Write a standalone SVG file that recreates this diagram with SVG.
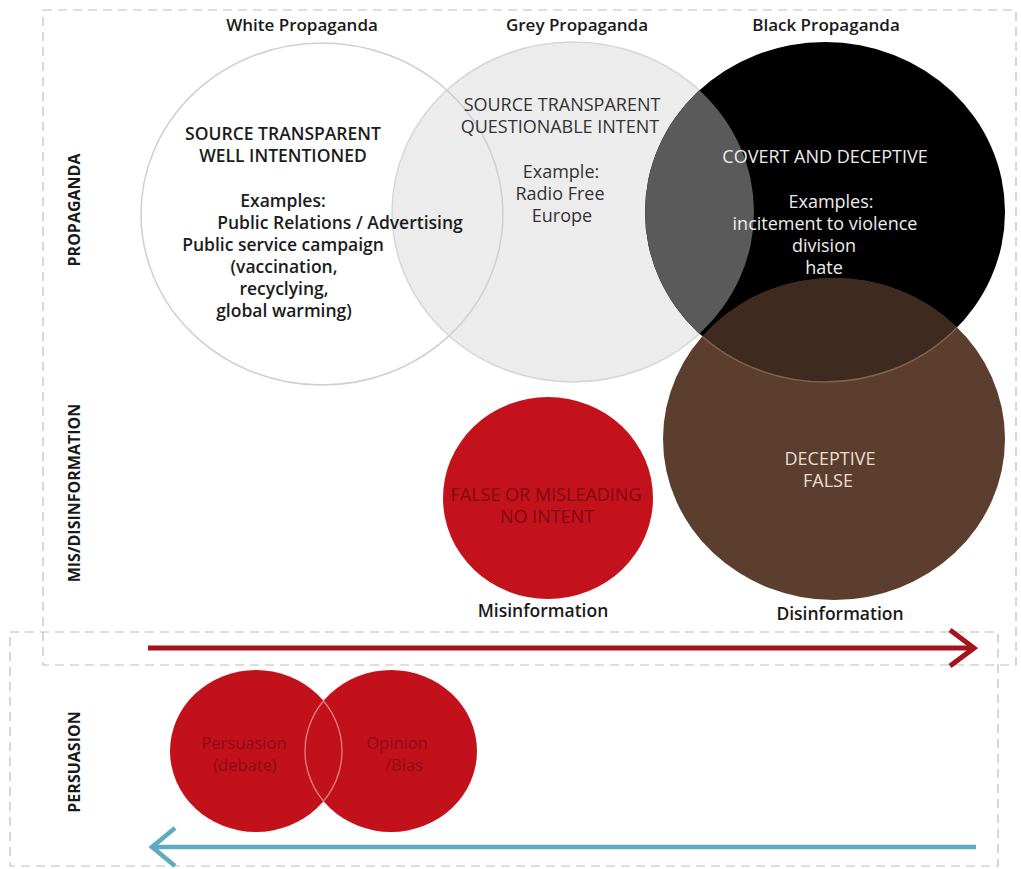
<svg xmlns="http://www.w3.org/2000/svg" width="1021" height="869" viewBox="0 0 1021 869">
<style>
  text { font-family: "Open Sans", "Noto Sans", "Liberation Sans", sans-serif; text-anchor: middle; }
  .title { font-size: 17px; font-weight: 600; fill: #1a1a1a; }
  .wtxt { font-size: 17.5px; font-weight: 600; fill: #1c1c1c; }
  .gtxt { font-size: 18px; fill: #333333; }
  .btxt { font-size: 18px; fill: #ececec; }
  .brtxt { font-size: 18px; fill: #eaded2; }
  .rtxt { font-size: 18px; fill: #7c0a12; }
  .ptxt { font-size: 16.5px; fill: #8c0d16; }
  .lbl { font-size: 17.5px; font-weight: 600; fill: #1a1a1a; }
  .side { font-size: 16px; font-weight: 700; fill: #1a1a1a; }
  .dash { fill: none; stroke: #bdbdbd; stroke-width: 1.2; stroke-dasharray: 9 6; }
</style>
<defs>
  <clipPath id="clipBlack"><ellipse cx="825" cy="212" rx="180" ry="170"/></clipPath>
  <clipPath id="clipBrown"><ellipse cx="834" cy="439" rx="171" ry="161"/></clipPath>
  <clipPath id="clipPersL"><ellipse cx="256" cy="751" rx="86" ry="81"/></clipPath>
  <clipPath id="clipPersR"><ellipse cx="391" cy="751" rx="86" ry="81"/></clipPath>
  <marker id="chevRed" markerUnits="userSpaceOnUse" viewBox="0 0 32 44" refX="28" refY="22" markerWidth="32" markerHeight="44" orient="auto">
    <path d="M4,4 L28,22 L4,40" fill="none" stroke="#a3141c" stroke-width="5"/>
  </marker>
  <marker id="chevBlue" markerUnits="userSpaceOnUse" viewBox="0 0 32 46" refX="28" refY="23" markerWidth="32" markerHeight="46" orient="auto">
    <path d="M5,4 L28,23 L5,42" fill="none" stroke="#62aac2" stroke-width="4.5"/>
  </marker>
</defs>
<rect width="1021" height="869" fill="#ffffff"/>

<g id="frames">
  <rect class="dash" x="43" y="10" width="973" height="655"/>
  <rect class="dash" x="10" y="632" width="988" height="234"/>
</g>

<g id="white-propaganda">
  <ellipse cx="322" cy="214" rx="181" ry="171" fill="#ffffff"/>
</g>
<g id="grey-propaganda">
  <ellipse cx="573" cy="212" rx="181" ry="170" fill="#ececec" stroke="#d6d6d6" stroke-width="1.5"/>
</g>
<ellipse id="white-outline" cx="322" cy="214" rx="181" ry="171" fill="none" stroke="#cfcfcf" stroke-width="1.5"/>
<g id="black-propaganda">
  <ellipse cx="825" cy="212" rx="180" ry="170" fill="#000000"/>
  <ellipse cx="573" cy="212" rx="181" ry="170" fill="#5a5a5a" clip-path="url(#clipBlack)"/>
</g>
<g id="disinformation">
  <ellipse cx="834" cy="439" rx="171" ry="161" fill="#5b3e2e"/>
  <ellipse cx="825" cy="212" rx="180" ry="170" fill="#3e2a1f" stroke="#84624d" stroke-width="1.5" clip-path="url(#clipBrown)"/>
  <text class="brtxt" x="830" y="465">DECEPTIVE</text>
  <text class="brtxt" x="828" y="487">FALSE</text>
  <text class="lbl" x="840" y="620">Disinformation</text>
</g>

<g id="white-text">
  <text class="title" x="302" y="31">White Propaganda</text>
  <text class="wtxt" x="283" y="140">SOURCE TRANSPARENT</text>
  <text class="wtxt" x="283" y="162">WELL INTENTIONED</text>
  <text class="wtxt" x="283" y="207">Examples:</text>
  <text class="wtxt" x="340" y="229">Public Relations / Advertising</text>
  <text class="wtxt" x="283" y="251">Public service campaign</text>
  <text class="wtxt" x="284" y="273">(vaccination,</text>
  <text class="wtxt" x="284" y="295">recyclying,</text>
  <text class="wtxt" x="284" y="317">global warming)</text>
</g>
<g id="grey-text">
  <text class="title" x="577" y="31">Grey Propaganda</text>
  <text class="gtxt" x="562" y="111">SOURCE TRANSPARENT</text>
  <text class="gtxt" x="560" y="133">QUESTIONABLE INTENT</text>
  <text class="gtxt" x="561" y="178">Example:</text>
  <text class="gtxt" x="560" y="200">Radio Free</text>
  <text class="gtxt" x="562" y="222">Europe</text>
</g>
<g id="black-text">
  <text class="title" x="826" y="31">Black Propaganda</text>
  <text class="btxt" x="825" y="163">COVERT AND DECEPTIVE</text>
  <text class="btxt" x="831" y="208">Examples:</text>
  <text class="btxt" x="825" y="230">incitement to violence</text>
  <text class="btxt" x="824" y="252">division</text>
  <text class="btxt" x="824" y="274">hate</text>
</g>

<g id="misinformation">
  <ellipse cx="548" cy="498" rx="105" ry="101" fill="#c4121c"/>
  <text class="rtxt" x="546" y="501">FALSE OR MISLEADING</text>
  <text class="rtxt" x="547" y="523">NO INTENT</text>
  <text class="lbl" x="543" y="617">Misinformation</text>
</g>

<g id="persuasion">
  <ellipse cx="256" cy="751" rx="86" ry="81" fill="#c2111b"/>
  <text class="ptxt" x="244" y="749">Persuasion</text>
  <text class="ptxt" x="245" y="771">(debate)</text>
</g>
<g id="opinion">
  <ellipse cx="391" cy="751" rx="86" ry="81" fill="#c2111b"/>
  <ellipse cx="256" cy="751" rx="86" ry="81" fill="none" stroke="#e98a8f" stroke-width="1.2" clip-path="url(#clipPersR)"/>
  <ellipse cx="391" cy="751" rx="86" ry="81" fill="none" stroke="#e98a8f" stroke-width="1.2" clip-path="url(#clipPersL)"/>
  <text class="ptxt" x="397" y="749">Opinion</text>
  <text class="ptxt" x="404" y="771">/Bias</text>
</g>

<g id="side-labels">
  <text class="side" transform="translate(80,210) rotate(-90)">PROPAGANDA</text>
  <text class="side" transform="translate(80,493) rotate(-90)">MIS/DISINFORMATION</text>
  <text class="side" transform="translate(80,762) rotate(-90)">PERSUASION</text>
</g>

<g id="connectors">
  <line x1="148" y1="648" x2="974" y2="648" stroke="#a3141c" stroke-width="5" marker-end="url(#chevRed)"/>
  <line x1="976" y1="847" x2="152" y2="847" stroke="#62aac2" stroke-width="4.5" marker-end="url(#chevBlue)"/>
</g>
</svg>
